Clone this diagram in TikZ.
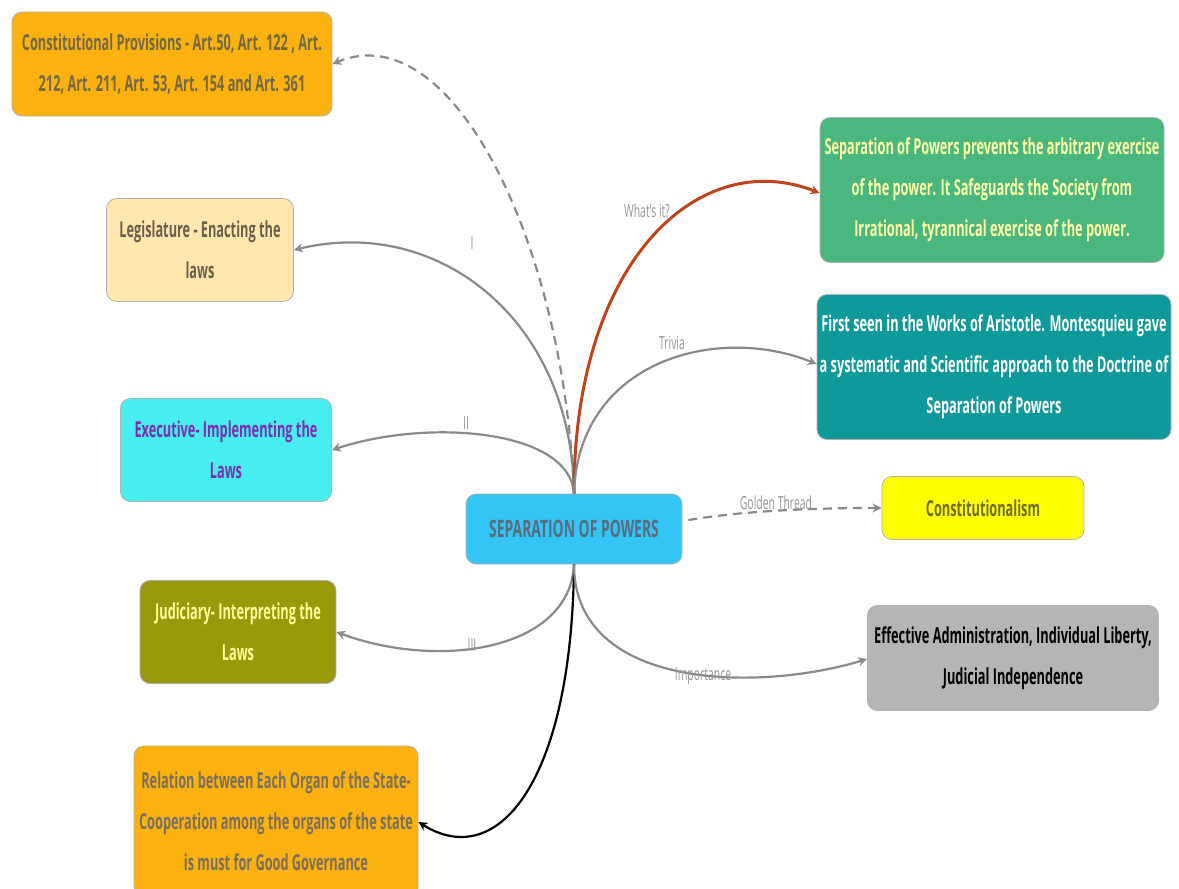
\documentclass[tikz,border=0pt]{standalone}
\usepackage{fontspec}
\setmainfont{Open Sans}[FakeStretch=0.58]
\usetikzlibrary{arrows.meta}
\definecolor{orng}{HTML}{FBB20F}
\definecolor{cream}{HTML}{FFE8B0}
\definecolor{aqua}{HTML}{46EEF0}
\definecolor{olive}{HTML}{9A990B}
\definecolor{skyb}{HTML}{33C6F5}
\definecolor{leaf}{HTML}{4AB77E}
\definecolor{teal}{HTML}{0E9A9A}
\definecolor{lemon}{HTML}{FFFF00}
\definecolor{silver}{HTML}{B5B5B5}
\definecolor{rust}{HTML}{C0441A}
\definecolor{wire}{HTML}{8A8A8A}

\begin{document}
\begin{tikzpicture}[x=1pt, y=-1pt,
  box/.style={draw=black!30, line width=0.8pt, rounded corners=10pt, align=center, inner sep=2pt,
    font=\fontsize{22}{41}\selectfont\bfseries},
  lbl/.style={text=wire!90, font=\fontsize{18}{19}\selectfont, inner sep=1pt},
  link/.style={draw=wire, line width=2.2pt, -{Stealth[length=9pt,width=9pt]}}]
\useasboundingbox (0,0) rectangle (1179,889);
\fill[white] (0,0) rectangle (1179,889);
% hub
\node[box, fill=skyb, text={rgb,255:red,91;green,107;blue,127}, minimum width=216pt, minimum height=70pt,
  font=\fontsize{24}{30}\selectfont\bfseries] (sop) at (574,529) {SEPARATION OF POWERS};
% left side
\node[box, fill=orng, text={rgb,255:red,115;green,104;blue,70}, minimum width=320pt, minimum height=104pt]
  (const) at (172,64) {Constitutional Provisions - Art.50, Art. 122 , Art.\\212, Art. 211, Art. 53, Art. 154 and Art. 361};
\node[box, fill=cream, text={rgb,255:red,107;green,95;blue,74}, minimum width=187pt, minimum height=103pt]
  (legis) at (200,250) {Legislature - Enacting the\\laws};
\node[box, fill=aqua, text={rgb,255:red,123;green,47;blue,176}, minimum width=211pt, minimum height=103pt]
  (exec) at (226,450) {Executive- Implementing the\\Laws};
\node[box, fill=olive, text={rgb,255:red,255;green,255;blue,153}, minimum width=196pt, minimum height=103pt]
  (judic) at (238,632) {Judiciary- Interpreting the\\Laws};
\node[box, fill=orng, text={rgb,255:red,122;green,110;blue,94}, minimum width=284pt, minimum height=150pt]
  (relat) at (276,821) {Relation between Each Organ of the State-\\Cooperation among the organs of the state\\is must for Good Governance};
% right side
\node[box, fill=leaf, text={rgb,255:red,255;green,255;blue,168}, minimum width=344pt, minimum height=145pt]
  (whatis) at (992,190) {Separation of Powers prevents the arbitrary exercise\\of the power. It Safeguards the Society from\\Irrational, tyrannical exercise of the power.};
\node[box, fill=teal, text=white, minimum width=354pt, minimum height=145pt]
  (trivia) at (994,367) {First seen in the Works of Aristotle. Montesquieu gave\\a systematic and Scientific approach to the Doctrine of\\Separation of Powers};
\node[box, fill=lemon, text={rgb,255:red,110;green,110;blue,42}, minimum width=202pt, minimum height=63pt]
  (consti) at (983,508) {Constitutionalism};
\node[box, fill=silver, text=black, minimum width=291pt, minimum height=105pt]
  (import) at (1013,658) {Effective Administration, Individual Liberty,\\Judicial Independence};
% connectors
\draw[link, dashed, dash pattern=on 9pt off 6pt] (sop.north) .. controls +(-10,-250) and +(120,-50) .. (const.east);
\draw[link] (sop.north) .. controls +(-2,-174) and +(144,-35) .. (legis.east);
\draw[link] (sop.north) .. controls +(-4,-64) and +(97,-32) .. (exec.east);
\draw[link] (sop.south) .. controls +(-4,86) and +(103,38) .. (judic.east);
\draw[link, draw=black] (sop.south) .. controls +(-2,216) and +(80,50) .. ([yshift=-1pt]relat.east);
\draw[link, draw=rust, line width=3pt] (sop.north) .. controls +(0,-234) and +(-120,-47) .. ([yshift=-3pt]whatis.west);
\draw[link] (sop.north) .. controls +(4,-134) and +(-98,-40) .. ([yshift=3pt]trivia.west);
\draw[link, dashed, dash pattern=on 9pt off 6pt] ([xshift=6pt,yshift=9pt]sop.east) .. controls +(60,-10) and +(-60,0) .. (consti.west);
\draw[link] (sop.south) .. controls +(0,126) and +(-108,33) .. ([yshift=-1pt]import.west);
% edge labels
\node[lbl] (lwhat) at (647,211) {What's it?};
\node[lbl] (ltriv) at (672,343) {Trivia};
\node[lbl] (lgold) at (776,503) {Golden Thread};
\node[lbl] (limp) at (703,676) {Importance};
\node[lbl] (lone) at (472,243) {I};
\node[lbl] (ltwo) at (466,423) {II};
\node[lbl] (lthree) at (472,645) {III};
\end{tikzpicture}
\end{document}
